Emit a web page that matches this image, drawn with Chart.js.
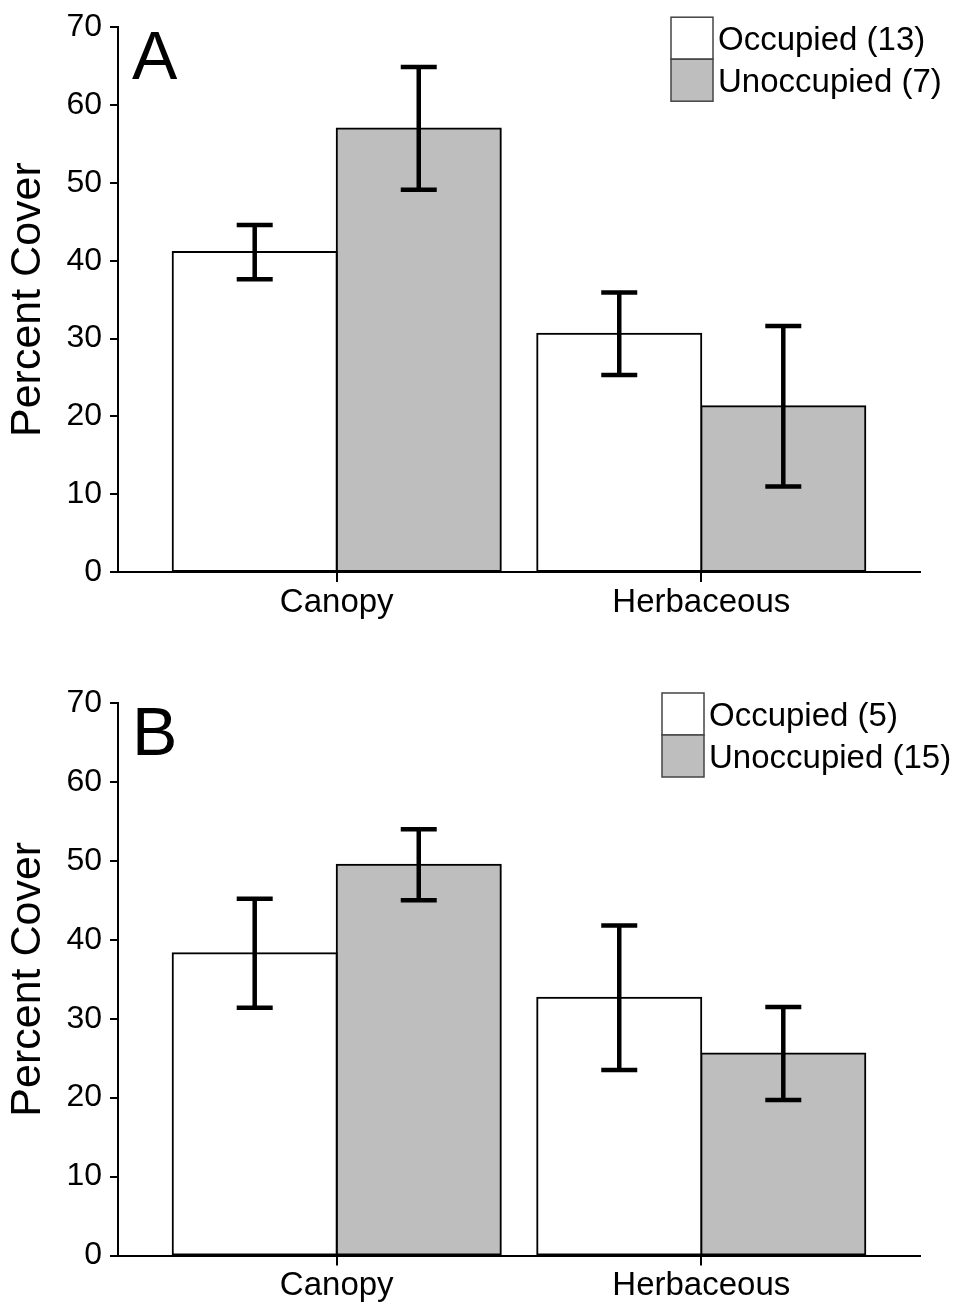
<!DOCTYPE html>
<html>
<head>
<meta charset="utf-8">
<title>Percent Cover by Occupancy</title>
<script src="https://cdn.jsdelivr.net/npm/chart.js@4.4.1/dist/chart.umd.min.js"></script>
<style>
  html, body { margin: 0; padding: 0; background: #ffffff; }
  .panel { position: absolute; left: 0; }
  #panelA { top: 0; }
  #panelB { top: 652px; }
</style>
</head>
<body>
<canvas id="panelA" class="panel" width="956" height="652"></canvas>
<canvas id="panelB" class="panel" width="956" height="652"></canvas>
<script>
// Vegetation structure categories (x axis)
const categories = ['Canopy', 'Herbaceous'];
const yTicks = [0, 10, 20, 30, 40, 50, 60, 70];

// Panel A: means and standard errors of percent cover
const seriesNamesA = ['Occupied (13)', 'Unoccupied (7)'];
const occupiedA = [41.1, 30.6];
const occupiedErrA = [3.5, 5.3];
const unoccupiedA = [57.0, 21.3];
const unoccupiedErrA = [7.9, 10.3];

// Panel B: means and standard errors of percent cover
const seriesNamesB = ['Occupied (5)', 'Unoccupied (15)'];
const occupiedB = [38.3, 32.65];
const occupiedErrB = [6.9, 9.15];
const unoccupiedB = [49.5, 25.6];
const unoccupiedErrB = [4.5, 5.9];

const FONT = '"Liberation Sans", Arial, Helvetica, sans-serif';
const GREY = '#bebebe';

// Error bars (mean +/- SE) drawn over each bar
const errorBarPlugin = {
  id: 'errorBars',
  afterDatasetsDraw(chart) {
    const ctx = chart.ctx;
    const yScale = chart.scales.y;
    ctx.save();
    ctx.strokeStyle = '#000';
    ctx.lineWidth = 4.5;
    ctx.lineCap = 'butt';
    chart.data.datasets.forEach((ds, i) => {
      const meta = chart.getDatasetMeta(i);
      meta.data.forEach((bar, j) => {
        const v = ds.data[j].y;
        const e = ds.errors[j];
        const x = bar.x;
        const yHi = yScale.getPixelForValue(v + e);
        const yLo = yScale.getPixelForValue(v - e);
        const half = 18;
        ctx.beginPath();
        ctx.moveTo(x, yHi); ctx.lineTo(x, yLo);
        ctx.moveTo(x - half, yHi); ctx.lineTo(x + half, yHi);
        ctx.moveTo(x - half, yLo); ctx.lineTo(x + half, yLo);
        ctx.stroke();
      });
    });
    ctx.restore();
  }
};

// Panel letter and stacked legend swatches
const decorPlugin = {
  id: 'decor',
  afterDraw(chart, args, opts) {
    const ctx = chart.ctx;
    const area = chart.chartArea;
    ctx.save();
    ctx.fillStyle = '#000';
    ctx.font = '68px ' + FONT;
    ctx.textBaseline = 'alphabetic';
    ctx.textAlign = 'left';
    ctx.fillText(opts.letter, area.left + 14, area.top + 52);

    const box = 42;
    let x = area.right - opts.legendOffset;
    let y = area.top - 10;
    ctx.font = '33px ' + FONT;
    ctx.textBaseline = 'middle';
    chart.data.datasets.forEach((ds, i) => {
      const top = y + i * box;
      ctx.fillStyle = ds.backgroundColor;
      ctx.fillRect(x, top, box, box);
      ctx.strokeStyle = '#444';
      ctx.lineWidth = 1.5;
      ctx.strokeRect(x, top, box, box);
      ctx.fillStyle = '#000';
      ctx.fillText(ds.label, x + box + 5, top + box / 2 + 3);
    });
    ctx.restore();
  }
};

function makeChart(canvasId, names, occ, occErr, unocc, unoccErr, letter, layout) {
  const toPoints = arr => arr.map((v, i) => ({ x: i, y: v }));
  return new Chart(document.getElementById(canvasId), {
    type: 'bar',
    data: {
      datasets: [
        { label: names[0], data: toPoints(occ), errors: occErr,
          backgroundColor: '#ffffff', borderColor: '#000', borderWidth: 2, borderSkipped: false, inflateAmount: 1 },
        { label: names[1], data: toPoints(unocc), errors: unoccErr,
          backgroundColor: GREY, borderColor: '#000', borderWidth: 2, borderSkipped: false, inflateAmount: 1 }
      ]
    },
    options: {
      responsive: false,
      animation: false,
      devicePixelRatio: 1,
      layout: { padding: { top: layout.top, right: 36, left: 0, bottom: 0 } },
      datasets: { bar: { categoryPercentage: 0.9, barPercentage: 1.0 } },
      plugins: {
        legend: { display: false },
        tooltip: { enabled: false },
        decor: { letter: letter, legendOffset: layout.legendOffset }
      },
      scales: {
        x: {
          type: 'linear',
          min: -0.6,
          max: 1.6,
          offset: false,
          afterBuildTicks: scale => { scale.ticks = categories.map((c, i) => ({ value: i })); },
          afterFit: scale => { scale.height = layout.xHeight; },
          border: { display: true, color: '#000', width: 2 },
          grid: { display: true, offset: false, drawOnChartArea: false, drawTicks: true, tickLength: 10, color: '#000', lineWidth: 2 },
          ticks: {
            callback: v => categories[v],
            color: '#000',
            font: { family: FONT, size: 33 },
            padding: 1,
            maxRotation: 0,
            autoSkip: false
          }
        },
        y: {
          min: 0,
          max: 70,
          afterBuildTicks: scale => { scale.ticks = yTicks.map(v => ({ value: v })); },
          afterFit: scale => { scale.width = 118; },
          border: { display: true, color: '#000', width: 2 },
          grid: { display: true, drawOnChartArea: false, drawTicks: true, tickLength: 8, color: '#000', lineWidth: 2 },
          ticks: { color: '#000', font: { family: FONT, size: 32 }, padding: 8 },
          title: {
            display: true,
            text: 'Percent Cover',
            color: '#000',
            font: { family: FONT, size: 43 },
            padding: { top: 2, bottom: 0 }
          }
        }
      }
    },
    plugins: [errorBarPlugin, decorPlugin]
  });
}

makeChart('panelA', seriesNamesA, occupiedA, occupiedErrA, unoccupiedA, unoccupiedErrA, 'A',
  { top: 21, xHeight: 80, legendOffset: 249 });
makeChart('panelB', seriesNamesB, occupiedB, occupiedErrB, unoccupiedB, unoccupiedErrB, 'B',
  { top: 51, xHeight: 48.5, legendOffset: 258 });
</script>
</body>
</html>
